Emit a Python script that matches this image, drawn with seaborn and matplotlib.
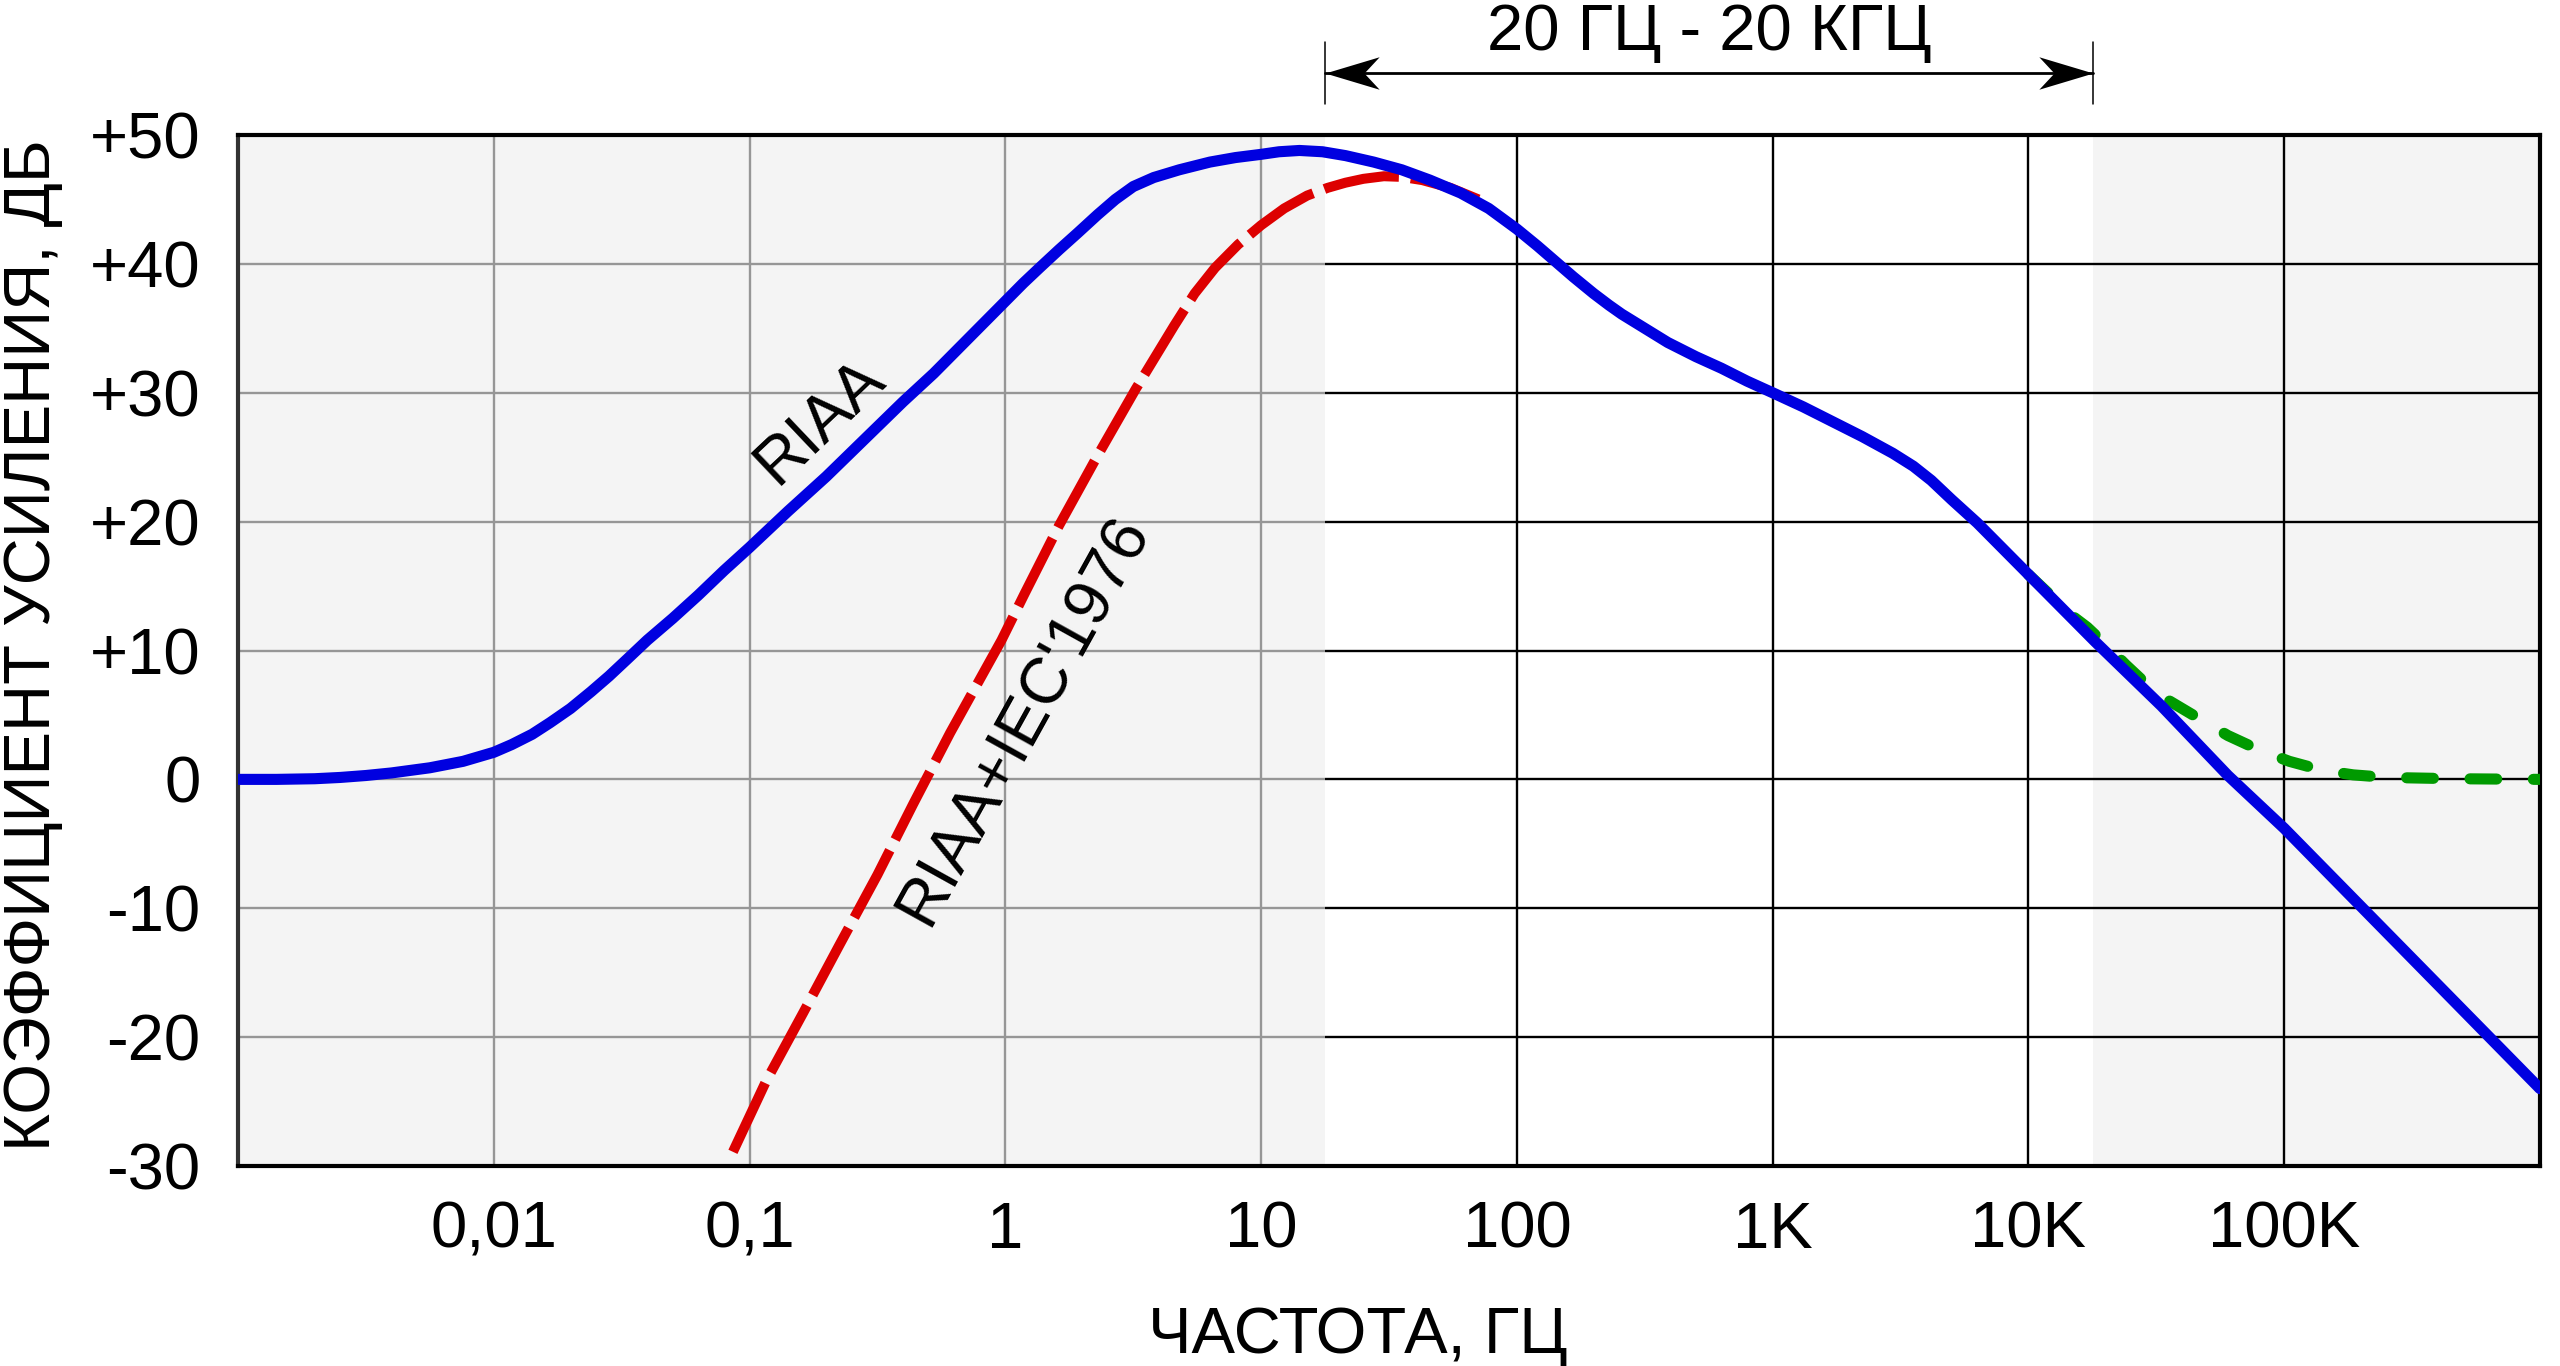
import numpy as np
import matplotlib
matplotlib.use("Agg")
import matplotlib.pyplot as plt
import matplotlib.transforms as mtransforms
from matplotlib.path import Path
from matplotlib.ticker import NullLocator
import seaborn as sns

# --- data (log10 of frequency in Hz, gain in dB) ---
riaa_log_f = [-3.0, -2.85, -2.7, -2.6, -2.5, -2.4, -2.25, -2.12, -2.0, -1.93, -1.85,
              -1.78, -1.7, -1.62, -1.55, -1.48, -1.4, -1.3, -1.2, -1.1, -1.0, -0.85,
              -0.7, -0.55, -0.4, -0.28, -0.17, -0.08, 0.0, 0.07, 0.134, 0.21, 0.283,
              0.36, 0.43, 0.5, 0.58, 0.68, 0.8, 0.9, 1.0, 1.07, 1.15, 1.24, 1.33,
              1.44, 1.55, 1.66, 1.78, 1.89, 2.0, 2.08, 2.15, 2.22, 2.3, 2.36, 2.41,
              2.5, 2.59, 2.7, 2.8, 2.9, 3.0, 3.12, 3.23, 3.35, 3.47, 3.55, 3.62, 3.7,
              3.8, 3.9, 4.0, 4.26, 4.52, 4.78, 5.0, 5.5, 6.0]
riaa_db = [0.0, 0.0, 0.05, 0.15, 0.3, 0.5, 0.9, 1.4, 2.1, 2.7, 3.5,
           4.4, 5.5, 6.8, 8.0, 9.3, 10.8, 12.5, 14.3, 16.2, 18.0, 20.8,
           23.5, 26.4, 29.3, 31.5, 33.7, 35.5, 37.1, 38.5, 39.7, 41.1, 42.4,
           43.8, 45.0, 46.0, 46.7, 47.3, 47.9, 48.25, 48.5, 48.7, 48.8, 48.7, 48.4,
           47.9, 47.3, 46.5, 45.5, 44.3, 42.7, 41.4, 40.2, 39.0, 37.7, 36.8, 36.1,
           35.0, 33.9, 32.8, 31.9, 30.9, 30.0, 28.9, 27.8, 26.6, 25.3, 24.3, 23.2,
           21.7, 19.9, 17.9, 15.9, 10.7, 5.7, 0.3, -3.8, -13.9, -24.0]

iec_log_f = [-1.065, -0.935, -0.79, -0.65, -0.5, -0.36, -0.216, -0.015, 0.075,
             0.21, 0.36, 0.51, 0.66, 0.74, 0.82, 0.91, 1.0, 1.09, 1.18, 1.26, 1.33,
             1.40, 1.48, 1.55, 1.63, 1.74, 1.85]
iec_db = [-28.9, -23.4, -18.1, -12.9, -7.4, -1.9, 3.6, 10.8, 14.4,
          19.7, 25.1, 30.3, 35.2, 37.7, 39.7, 41.5, 43.0, 44.3, 45.3, 45.9, 46.3,
          46.6, 46.8, 46.75, 46.5, 45.9, 45.0]

hf_log_f = [4.0, 4.08, 4.15, 4.23, 4.31, 4.38, 4.45, 4.55, 4.66, 4.78, 4.9,
            5.02, 5.15, 5.27, 5.4, 5.67, 6.0]
hf_db = [15.9, 14.4, 13.0, 11.8, 10.3, 8.9, 7.6, 6.1, 4.8, 3.4, 2.3,
         1.4, 0.7, 0.35, 0.15, 0.05, 0.0]

riaa_f = 10.0 ** np.array(riaa_log_f)
iec_f = 10.0 ** np.array(iec_log_f)
hf_f = 10.0 ** np.array(hf_log_f)

band_edges = [17.8, 17800]
band_label = "20 ГЦ - 20 КГЦ"

x_ticks = [0.01, 0.1, 1, 10, 100, 1000, 10000, 100000]
x_labels = ["0,01", "0,1", "1", "10", "100", "1K", "10K", "100K"]
y_ticks = [50, 40, 30, 20, 10, 0, -10, -20, -30]
y_labels = ["+50", "+40", "+30", "+20", "+10", "0", "-10", "-20", "-30"]

sns.set_theme(style="white")
plt.rcParams["font.family"] = ["Liberation Sans", "DejaVu Sans"]
plt.rcParams["text.color"] = "black"
plt.rcParams["axes.labelcolor"] = "black"
fs = 47

fig = plt.figure(figsize=(25.6, 13.66), dpi=100)
ax = fig.add_axes([0.09297, 0.14641, 0.89922, 0.75476])
ax.set_xscale("log")
ax.set_xlim(1e-3, 1e6)
ax.set_ylim(-30, 50)

# background: grey outside the audio band, white inside
ax.set_facecolor("#f4f4f4")
ax.axvspan(band_edges[0], band_edges[1], color="white", lw=0, zorder=0.1)
ax.set_axisbelow(True)
ax.grid(True, which="major", color="black", lw=1.7)
# left grey part has softer grid lines
ax.axvspan(1e-3, band_edges[0], color="#f4f4f4", alpha=0.62, lw=0, zorder=0.8)

sns.lineplot(x=riaa_f, y=riaa_db, ax=ax, color="#0000e0", lw=8,
             solid_capstyle="round", zorder=4)
sns.lineplot(x=iec_f, y=iec_db, ax=ax, color="#dd0000", lw=7.2,
             linestyle=(0, (7.6, 1.2)), dash_capstyle="butt", zorder=3)
sns.lineplot(x=hf_f, y=hf_db, ax=ax, color="#009a00", lw=8,
             linestyle=(0, (2.4, 3.3)), dash_capstyle="round", zorder=3)

ax.set_xticks(x_ticks, x_labels)
ax.xaxis.set_minor_locator(NullLocator())
ax.set_yticks(y_ticks, y_labels)
ax.tick_params(axis="both", length=0, labelsize=fs, colors="black")
ax.tick_params(axis="x", pad=25)
ax.tick_params(axis="y", pad=27)

for side, sp in ax.spines.items():
    sp.set_visible(True)
    sp.set_linewidth(3)
    sp.set_color("black")
ax.spines["left"].set_color("#333333")

ax.set_xlabel("ЧАСТОТА, ГЦ", fontsize=fs, va="baseline", color="black")
ax.xaxis.set_label_coords(0.4865, -0.1814)
ax.set_ylabel("КОЭФФИЦИЕНТ УСИЛЕНИЯ, ДБ", fontsize=fs, va="baseline", color="black")
ax.yaxis.set_label_coords(-0.0817, 0.505)

# curve captions
ax.text(0.188, 27.8, "RIAA", fontsize=fs, rotation=43.5, rotation_mode="anchor",
        ha="center", va="center", color="black", zorder=5)
ax.text(1.18, 4.6, "RIAA+IEC'1976", fontsize=fs, rotation=61, rotation_mode="anchor",
        ha="center", va="center", color="black", zorder=5)

# audio band marker above the plot
trans = mtransforms.blended_transform_factory(ax.transData, ax.transAxes)
for xe in band_edges:
    ax.plot([xe, xe], [1.0301, 1.0902], transform=trans, color="black", lw=1.1,
            clip_on=False)
ax.plot(band_edges, [1.0601, 1.0601], transform=trans, color="black", lw=2,
        clip_on=False)
# notched arrow heads, tip at the marker origin
head_right = Path([(0, 0), (-1, 0.3), (-0.72, 0), (-1, -0.3), (0, 0)],
                  [Path.MOVETO, Path.LINETO, Path.LINETO, Path.LINETO, Path.CLOSEPOLY])
head_left = Path([(0, 0), (1, 0.3), (0.72, 0), (1, -0.3), (0, 0)],
                 [Path.MOVETO, Path.LINETO, Path.LINETO, Path.LINETO, Path.CLOSEPOLY])
ax.plot([band_edges[0]], [1.0601], transform=trans, marker=head_left, ms=78,
        color="black", mew=0, clip_on=False)
ax.plot([band_edges[1]], [1.0601], transform=trans, marker=head_right, ms=78,
        color="black", mew=0, clip_on=False)
ax.text(np.sqrt(band_edges[0] * band_edges[1]), 1.0824, band_label, fontsize=fs,
        transform=trans, ha="center", va="baseline", color="black")

fig.savefig("out.png", dpi=100)
